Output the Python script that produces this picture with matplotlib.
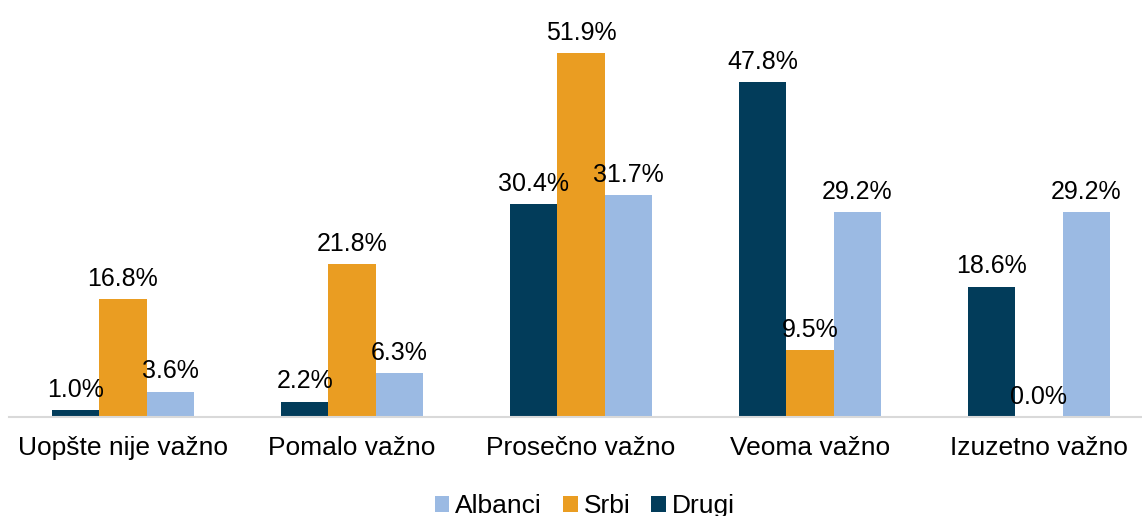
import matplotlib
matplotlib.use("Agg")
import matplotlib.pyplot as plt
import numpy as np

categories = ["Uopšte nije važno", "Pomalo važno", "Prosečno važno", "Veoma važno", "Izuzetno važno"]
drugi = [1.0, 2.2, 30.4, 47.8, 18.6]
srbi = [16.8, 21.8, 51.9, 9.5, 0.0]
albanci = [3.6, 6.3, 31.7, 29.2, 29.2]

plt.rcParams["font.family"] = ["Liberation Sans", "DejaVu Sans"]

c_drugi = "#023C5A"
c_srbi = "#EA9D22"
c_alb = "#9BBAE3"

fig = plt.figure(figsize=(11.42, 5.16), dpi=100)
ax = fig.add_axes([8.5 / 1142, 1 - 417 / 516, 1 - 8.5 / 1142, 417 / 516])

x = np.arange(len(categories))
w = 0.206
b1 = ax.bar(x - w, drugi, w, color=c_drugi, label="Drugi")
b2 = ax.bar(x, srbi, w, color=c_srbi, label="Srbi")
b3 = ax.bar(x + w, albanci, w, color=c_alb, label="Albanci")

for bars, vals in [(b1, drugi), (b2, srbi), (b3, albanci)]:
    for rect, v in zip(bars, vals):
        ax.annotate(f"{v:.1f}%", (rect.get_x() + rect.get_width() / 2, v),
                    xytext=(0, 6), textcoords="offset points",
                    ha="center", va="bottom", fontsize=18, color="#000000")

ax.set_ylim(0, 59.5)
ax.set_xlim(-0.5, (1142 - 8.5) / 229 - 0.5)
ax.set_xticks(x)
ax.set_xticklabels(categories, fontsize=19)
ax.tick_params(axis="x", length=0, pad=14)
ax.set_yticks([])
for s in ["top", "right", "left"]:
    ax.spines[s].set_visible(False)
ax.spines["bottom"].set_color("#D9D9D9")
ax.spines["bottom"].set_linewidth(1.5)

handles = [b3, b2, b1]
fig.legend(handles, ["Albanci", "Srbi", "Drugi"], loc="lower center",
           bbox_to_anchor=(0.512, -0.05), ncol=3, frameon=False, fontsize=19,
           handlelength=0.55, handleheight=0.55, handletextpad=0.22, columnspacing=0.8)

fig.savefig("out.png", dpi=100)
